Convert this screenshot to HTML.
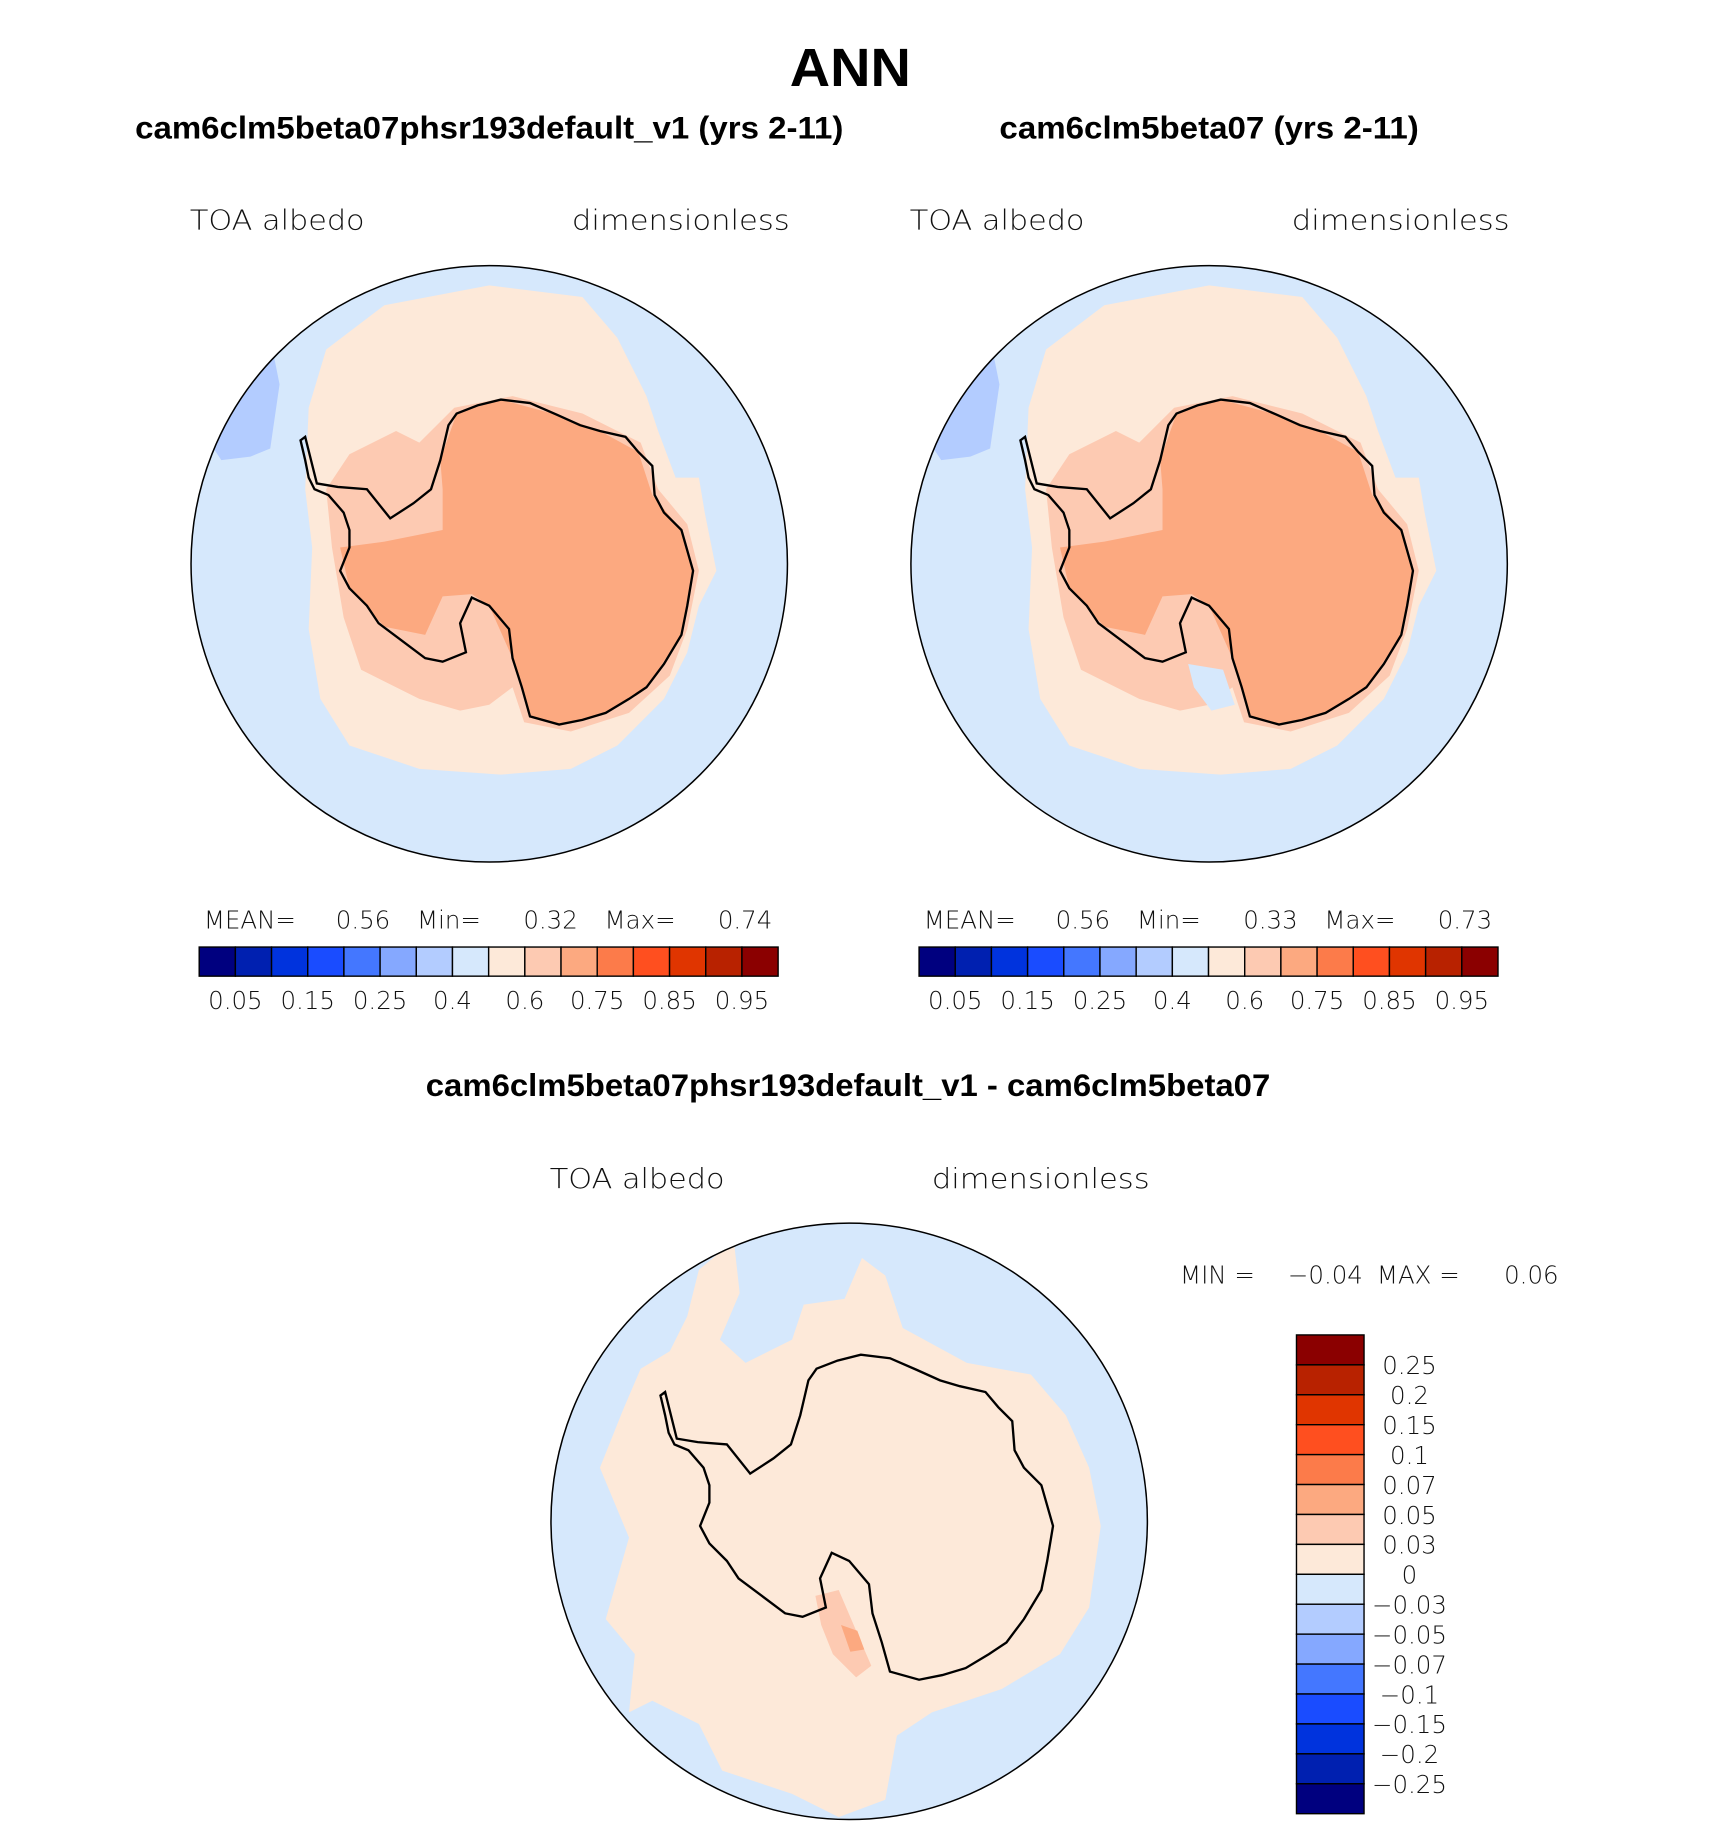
<!DOCTYPE html>
<html><head><meta charset="utf-8"><style>
html,body{margin:0;padding:0;background:#fff}
svg{display:block}
text{font-family:"Liberation Sans",sans-serif}
.t, .t text{font-family:"DejaVu Sans","Liberation Sans",sans-serif;font-weight:200;fill:#111;white-space:pre}
</style></head><body>
<svg id="root" width="1710" height="1837" viewBox="0 0 1468 1577" xmlns="http://www.w3.org/2000/svg">
<defs>
<clipPath id="c1"><circle cx="420" cy="484" r="256"/></clipPath>
<clipPath id="c2"><circle cx="1038" cy="484" r="256"/></clipPath>
<clipPath id="c3"><circle cx="729" cy="1306" r="256"/></clipPath>
</defs>
<text x="730" y="74" text-anchor="middle" font-size="46" font-weight="bold" textLength="104" lengthAdjust="spacingAndGlyphs">ANN</text>
<text x="420" y="119" text-anchor="middle" font-size="27" font-weight="bold" textLength="608" lengthAdjust="spacingAndGlyphs">cam6clm5beta07phsr193default_v1 (yrs 2-11)</text>
<text x="1038" y="119" text-anchor="middle" font-size="27" font-weight="bold" textLength="360" lengthAdjust="spacingAndGlyphs">cam6clm5beta07 (yrs 2-11)</text>
<text x="728" y="941" text-anchor="middle" font-size="27" font-weight="bold" textLength="725" lengthAdjust="spacingAndGlyphs">cam6clm5beta07phsr193default_v1 - cam6clm5beta07</text>

<text class="t" x="163" y="197" font-size="24" textLength="150" lengthAdjust="spacingAndGlyphs">TOA albedo</text>
<text class="t" x="491" y="197" font-size="24" textLength="187" lengthAdjust="spacingAndGlyphs">dimensionless</text>
<text class="t" x="781" y="197" font-size="24" textLength="150" lengthAdjust="spacingAndGlyphs">TOA albedo</text>
<text class="t" x="1109" y="197" font-size="24" textLength="187" lengthAdjust="spacingAndGlyphs">dimensionless</text>
<text class="t" x="472" y="1020" font-size="24" textLength="150" lengthAdjust="spacingAndGlyphs">TOA albedo</text>
<text class="t" x="800" y="1020" font-size="24" textLength="187" lengthAdjust="spacingAndGlyphs">dimensionless</text>

<g clip-path="url(#c1)">
<circle cx="420" cy="484" r="256" fill="#d6e8fc"/>
<path d="M180,380 L205,340 L235,305 L240,330 L232,385 L215,392 L190,395Z" fill="#b3ccff"/>
<path d="M330,262 L420,245 L500,255 L530,290 L555,340 L565,370 L580,410 L600,410 L605,440 L615,490 L600,520 L590,560 L570,600 L530,640 L490,660 L430,665 L360,660 L300,640 L275,600 L265,540 L268,470 L262,420 L265,350 L280,300Z" fill="#fde9d9"/>
<path d="M300,390 L340,370 L360,380 L390,350 L440,340 L500,355 L550,380 L565,420 L590,450 L600,490 L590,540 L575,580 L540,612 L490,628 L450,620 L440,590 L420,605 L395,610 L360,600 L310,575 L295,530 L285,470 L280,420Z" fill="#fdcab2"/>
<path d="M392,355 L430,343 L478,356 L515,370 L548,388 L560,425 L585,455 L595,490 L585,545 L555,590 L520,612 L480,622 L455,615 L440,565 L420,520 L405,510 L380,512 L365,545 L330,538 L300,505 L292,470 L330,465 L380,455 L380,420 L378,395Z" fill="#fca980"/>
</g>
<path d="M392,355 L410,348 L430,343 L455,346 L478,356 L498,365 L515,370 L537,375 L548,388 L560,400 L562,425 L570,440 L585,455 L595,490 L590,520 L585,545 L570,570 L555,590 L540,600 L520,612 L500,618 L480,622 L455,615 L448,590 L440,565 L437,540 L420,520 L405,513 L395,535 L400,560 L380,568 L365,565 L345,550 L325,535 L315,520 L300,505 L292,490 L300,470 L300,455 L295,440 L282,425 L270,420 L265,410 L262,395 L258,378 L262,375 L272,415 L290,418 L315,420 L335,445 L355,432 L370,420 L378,395 L385,365Z" fill="none" stroke="#000" stroke-width="2"/>
<circle cx="420" cy="484" r="256" fill="none" stroke="#000" stroke-width="1.3"/>

<g clip-path="url(#c2)">
<circle cx="1038" cy="484" r="256" fill="#d6e8fc"/>
<path d="M798,380 L823,340 L853,305 L858,330 L850,385 L833,392 L808,395Z" fill="#b3ccff"/>
<path d="M948,262 L1038,245 L1118,255 L1148,290 L1173,340 L1183,370 L1198,410 L1218,410 L1223,440 L1233,490 L1218,520 L1208,560 L1188,600 L1148,640 L1108,660 L1048,665 L978,660 L918,640 L893,600 L883,540 L886,470 L880,420 L883,350 L898,300Z" fill="#fde9d9"/>
<path d="M918,390 L958,370 L978,380 L1008,350 L1058,340 L1118,355 L1168,380 L1183,420 L1208,450 L1218,490 L1208,540 L1193,580 L1158,612 L1108,628 L1068,620 L1058,590 L1038,605 L1013,610 L978,600 L928,575 L913,530 L903,470 L898,420Z" fill="#fdcab2"/>
<path d="M1010,355 L1048,343 L1096,356 L1133,370 L1166,388 L1178,425 L1203,455 L1213,490 L1203,545 L1173,590 L1138,612 L1098,622 L1073,615 L1058,565 L1038,520 L1023,510 L998,512 L983,545 L948,538 L918,505 L910,470 L948,465 L998,455 L998,420 L996,395Z" fill="#fca980"/>
<path d="M1020,570 L1050,575 L1060,605 L1040,610 L1025,590Z" fill="#d6e8fc"/>
</g>
<path d="M1010,355 L1028,348 L1048,343 L1073,346 L1096,356 L1116,365 L1133,370 L1155,375 L1166,388 L1178,400 L1180,425 L1188,440 L1203,455 L1213,490 L1208,520 L1203,545 L1188,570 L1173,590 L1158,600 L1138,612 L1118,618 L1098,622 L1073,615 L1066,590 L1058,565 L1055,540 L1038,520 L1023,513 L1013,535 L1018,560 L998,568 L983,565 L963,550 L943,535 L933,520 L918,505 L910,490 L918,470 L918,455 L913,440 L900,425 L888,420 L883,410 L880,395 L876,378 L880,375 L890,415 L908,418 L933,420 L953,445 L973,432 L988,420 L996,395 L1003,365Z" fill="none" stroke="#000" stroke-width="2"/>
<circle cx="1038" cy="484" r="256" fill="none" stroke="#000" stroke-width="1.3"/>

<g clip-path="url(#c3)">
<circle cx="729" cy="1306" r="256" fill="#d6e8fc"/>
<path d="M600,1090 L630,1065 L635,1110 L618,1150 L640,1170 L680,1150 L690,1120 L725,1115 L740,1080 L760,1095 L775,1140 L830,1170 L885,1180 L915,1215 L935,1260 L945,1310 L935,1380 L910,1420 L860,1450 L800,1470 L770,1490 L760,1545 L720,1560 L680,1540 L620,1520 L600,1480 L560,1460 L540,1470 L545,1420 L520,1390 L540,1320 L515,1260 L535,1210 L550,1175 L575,1160 L590,1130Z" fill="#fde9d9"/>
<path d="M520,1550 L560,1520 L600,1540 L610,1577 L520,1577Z" fill="#fde9d9"/>
<path d="M700,1370 L720,1365 L735,1400 L748,1430 L735,1440 L715,1420 L705,1395Z" fill="#fdcab2"/>
<path d="M722,1395 L736,1400 L742,1416 L730,1418Z" fill="#fca980"/>
</g>
<path d="M701,1175 L719,1168 L739,1163 L764,1166 L787,1176 L807,1185 L824,1190 L846,1195 L857,1208 L869,1220 L871,1245 L879,1260 L894,1275 L904,1310 L899,1340 L894,1365 L879,1390 L864,1410 L849,1420 L829,1432 L809,1438 L789,1442 L764,1435 L757,1410 L749,1385 L746,1360 L729,1340 L714,1333 L704,1355 L709,1380 L689,1388 L674,1385 L654,1370 L634,1355 L624,1340 L609,1325 L601,1310 L609,1290 L609,1275 L604,1260 L591,1245 L579,1240 L574,1230 L571,1215 L567,1198 L571,1195 L581,1235 L599,1238 L624,1240 L644,1265 L664,1252 L679,1240 L687,1215 L694,1185Z" fill="none" stroke="#000" stroke-width="2"/>
<circle cx="729" cy="1306" r="256" fill="none" stroke="#000" stroke-width="1.3"/>

<g class="t" font-size="21">
<text x="175" y="797">MEAN=</text><text x="335" y="797" text-anchor="end">0.56</text>
<text x="358" y="797">Min=</text><text x="496" y="797" text-anchor="end">0.32</text>
<text x="519" y="797">Max=</text><text x="663" y="797" text-anchor="end">0.74</text>
</g>
<g class="t" font-size="21">
<text x="793" y="797">MEAN=</text><text x="953" y="797" text-anchor="end">0.56</text>
<text x="976" y="797">Min=</text><text x="1114" y="797" text-anchor="end">0.33</text>
<text x="1137" y="797">Max=</text><text x="1281" y="797" text-anchor="end">0.73</text>
</g>
<g class="t" font-size="21">
<text x="1013" y="1102">MIN =</text><text x="1170" y="1102" text-anchor="end">−0.04</text>
<text x="1182" y="1102">MAX =</text><text x="1338" y="1102" text-anchor="end">0.06</text>
</g>
<g id="cbars"></g>
</svg>
<script>
const absColors = ["#00007f","#0020b0","#0033dd","#1a4cff","#4477ff","#85a8ff","#b3ccff","#d6e8fc","#fde9d9","#fdcab2","#fca980","#fc7b4a","#ff4f1f","#e03500","#b82200","#8b0000"];
const absLabels = ["0.05","0.15","0.25","0.4","0.6","0.75","0.85","0.95"];
const diffLabels = ["0.25","0.2","0.15","0.1","0.07","0.05","0.03","0","\u22120.03","\u22120.05","\u22120.07","\u22120.1","\u22120.15","\u22120.2","\u22120.25"];
const NS="http://www.w3.org/2000/svg";
const g=document.getElementById('cbars');
function hbar(x0,x1,y0,y1){
  const w=(x1-x0)/absColors.length;
  absColors.forEach((c,i)=>{
    const r=document.createElementNS(NS,'rect');
    r.setAttribute('x',x0+i*w);r.setAttribute('y',y0);r.setAttribute('width',w);r.setAttribute('height',y1-y0);
    r.setAttribute('fill',c);r.setAttribute('stroke','#000');r.setAttribute('stroke-width','1.2');
    
    
    g.appendChild(r);
  });
  absLabels.forEach((l,i)=>{
    const t=document.createElementNS(NS,'text');
    t.setAttribute('x',x0+(1+2*i)*w);t.setAttribute('y',y1+28);t.setAttribute('text-anchor','middle');
    t.setAttribute('class','t');t.setAttribute('font-size','21');t.textContent=l;
    
    
    g.appendChild(t);
  });
}
hbar(171,668,813,838);
hbar(789,1286,813,838);
(function(){
  const x0=1113,x1=1171,y0=1146,y1=1557,n=absColors.length,h=(y1-y0)/n;
  for(let i=0;i<n;i++){
    const r=document.createElementNS(NS,'rect');
    r.setAttribute('x',x0);r.setAttribute('y',y0+i*h);r.setAttribute('width',x1-x0);r.setAttribute('height',h);
    r.setAttribute('fill',absColors[n-1-i]);r.setAttribute('stroke','#000');r.setAttribute('stroke-width','1.2');
    
    
    g.appendChild(r);
  }
  diffLabels.forEach((l,i)=>{
    const t=document.createElementNS(NS,'text');
    t.setAttribute('x',1210);t.setAttribute('y',y0+(i+1)*h+8);t.setAttribute('text-anchor','middle');
    t.setAttribute('class','t');t.setAttribute('font-size','21');t.textContent=l;
    
    
    g.appendChild(t);
  });
})();
</script>
</body></html>
